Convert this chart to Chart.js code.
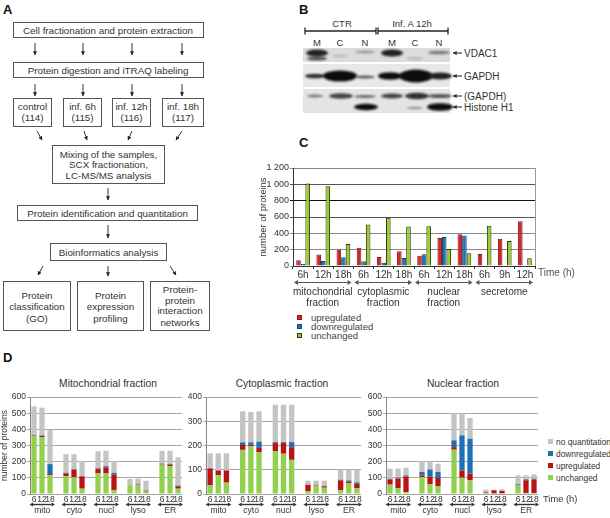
<!DOCTYPE html>
<html><head><meta charset="utf-8">
<script src="https://cdn.jsdelivr.net/npm/chart.js@4.4.1/dist/chart.umd.min.js"></script>
<style>
html,body{margin:0;padding:0;background:#fff;width:610px;height:518px;overflow:hidden;position:relative;font-family:"Liberation Sans",Arial,sans-serif}
canvas{position:absolute}
svg{position:absolute;left:0;top:0}
</style></head><body>
<svg width="610" height="518">
<defs>
<marker id="ah" viewBox="0 0 6 6" refX="5.5" refY="3" markerWidth="4.5" markerHeight="4.5" orient="auto"><path d="M0,0 L6,3 L0,6 z" fill="#222"/></marker>
<marker id="ahb" viewBox="0 0 6 6" refX="5.5" refY="3" markerWidth="4" markerHeight="4" orient="auto"><path d="M0,0 L6,3 L0,6 z" fill="#333"/></marker>
<filter id="bl" x="-50%" y="-100%" width="200%" height="300%"><feGaussianBlur stdDeviation="1.3"/></filter>
</defs>
<g font-family="Liberation Sans, Arial, sans-serif">
<text x="3" y="14" font-weight="bold" font-size="13" fill="#111">A</text>
<text x="299" y="14" font-weight="bold" font-size="13" fill="#111">B</text>
<text x="299" y="147" font-weight="bold" font-size="13" fill="#111">C</text>
<text x="3" y="362" font-weight="bold" font-size="13" fill="#111">D</text>
</g>
<!-- Panel A flowchart -->
<g fill="#fff" stroke="#555" stroke-width="1">
<rect x="13.5" y="22.5" width="190" height="15"/>
<rect x="13.5" y="62.5" width="190" height="15"/>
<rect x="13.5" y="98.5" width="38" height="28"/>
<rect x="63.5" y="98.5" width="38" height="28"/>
<rect x="112.5" y="98.5" width="38" height="28"/>
<rect x="162.5" y="98.5" width="41" height="28"/>
<rect x="52.5" y="145.5" width="112" height="38"/>
<rect x="17.5" y="205.5" width="180" height="15"/>
<rect x="50.5" y="243.5" width="116" height="17"/>
<rect x="3.5" y="281.5" width="67" height="49"/>
<rect x="77.5" y="281.5" width="66" height="49"/>
<rect x="150.5" y="281.5" width="59" height="49"/>
</g>
<g stroke="#222" stroke-width="0.9" marker-end="url(#ah)">
<line x1="35" y1="43" x2="35" y2="55"/><line x1="83" y1="43" x2="83" y2="55"/><line x1="132" y1="43" x2="132" y2="55"/><line x1="182" y1="43" x2="182" y2="55"/>
<line x1="35" y1="84" x2="35" y2="96"/><line x1="83" y1="84" x2="83" y2="96"/><line x1="132" y1="84" x2="132" y2="96"/><line x1="182" y1="84" x2="182" y2="96"/>
<line x1="37" y1="131" x2="42" y2="140"/><line x1="84" y1="131" x2="87" y2="140"/><line x1="132" y1="131" x2="128" y2="140"/><line x1="182" y1="131" x2="176" y2="140"/>
<line x1="108" y1="188" x2="108" y2="200"/>
<line x1="108" y1="225" x2="108" y2="238"/>
<line x1="43" y1="266" x2="38" y2="275"/><line x1="108" y1="266" x2="108" y2="276"/><line x1="170" y1="266" x2="176" y2="275"/>
</g>
<g font-family="Liberation Sans, Arial, sans-serif" font-size="9.8" fill="#333" text-anchor="middle">
<text x="108" y="33.5">Cell fractionation and protein extraction</text>
<text x="108" y="73.5">Protein digestion and iTRAQ labeling</text>
<text x="32.5" y="109.5">control</text><text x="32.5" y="121">(114)</text>
<text x="82.5" y="109.5">inf. 6h</text><text x="82.5" y="121">(115)</text>
<text x="131.5" y="109.5">inf. 12h</text><text x="131.5" y="121">(116)</text>
<text x="183" y="109.5">inf. 18h</text><text x="183" y="121">(117)</text>
<text x="108.5" y="157.5">Mixing of the samples,</text>
<text x="108.5" y="168">SCX fractionation,</text>
<text x="108.5" y="178.5">LC-MS/MS analysis</text>
<text x="107.5" y="216.5">Protein identification and quantitation</text>
<text x="108.5" y="255.5">Bioinformatics analysis</text>
<text x="37" y="298.5">Protein</text><text x="37" y="310">classification</text><text x="37" y="321.5">(GO)</text>
<text x="110.5" y="298.5">Protein</text><text x="110.5" y="310">expression</text><text x="110.5" y="321.5">profiling</text>
<text x="180" y="292.5">Protein-</text><text x="180" y="303.5">protein</text><text x="180" y="314">interaction</text><text x="180" y="325.5">networks</text>
</g>
<!-- Panel B blot -->
<g font-family="Liberation Sans, Arial, sans-serif" font-size="9.5" fill="#333" text-anchor="middle">
<text x="342" y="27">CTR</text><text x="412" y="27">Inf. A 12h</text>
<text x="317" y="45.5">M</text><text x="340" y="45.5">C</text><text x="365" y="45.5">N</text>
<text x="392" y="45.5">M</text><text x="415" y="45.5">C</text><text x="439" y="45.5">N</text>
</g>
<g stroke="#222" stroke-width="1.3">
<line x1="305" y1="31" x2="376" y2="31"/><line x1="378" y1="31" x2="448" y2="31"/>
<line x1="305" y1="27.5" x2="305" y2="34.5"/><line x1="376" y1="27.5" x2="376" y2="34.5"/><line x1="378" y1="27.5" x2="378" y2="34.5"/><line x1="448" y1="27.5" x2="448" y2="34.5"/>
</g>
<rect x="303" y="48" width="147" height="14" fill="#dcdcdc"/>
<rect x="303" y="64" width="147" height="23" fill="#e8e8e8"/>
<rect x="303" y="89" width="147" height="24" fill="#e4e4e4"/>
<g filter="url(#bl)">
<ellipse cx="317" cy="53" rx="11" ry="3.5" fill="#222"/><ellipse cx="317" cy="58.5" rx="10" ry="2" fill="#555"/>
<ellipse cx="340" cy="56" rx="8" ry="1.5" fill="#bbb"/><ellipse cx="365" cy="52" rx="10" ry="1.5" fill="#999"/>
<ellipse cx="392" cy="53" rx="11" ry="3.5" fill="#222"/><ellipse cx="415" cy="58.5" rx="8" ry="1" fill="#aaa"/>
<ellipse cx="439" cy="52.5" rx="11" ry="1.8" fill="#777"/>
<ellipse cx="315" cy="76" rx="10" ry="2.3" fill="#333"/><ellipse cx="340" cy="76" rx="17" ry="5.5" fill="#111"/>
<ellipse cx="365" cy="77" rx="10" ry="1.5" fill="#555"/><ellipse cx="390" cy="76" rx="12" ry="3.8" fill="#111"/>
<ellipse cx="416" cy="76" rx="17" ry="6.5" fill="#0a0a0a"/><ellipse cx="440" cy="76" rx="12" ry="3.5" fill="#222"/>
<ellipse cx="315" cy="96" rx="8" ry="1.4" fill="#777"/><ellipse cx="341" cy="96" rx="12" ry="2.8" fill="#444"/>
<ellipse cx="365" cy="96.5" rx="11" ry="1.4" fill="#666"/><ellipse cx="392" cy="96" rx="11" ry="2.4" fill="#444"/>
<ellipse cx="417" cy="96" rx="12" ry="3.3" fill="#333"/><ellipse cx="440" cy="96" rx="12" ry="2" fill="#555"/>
<ellipse cx="366" cy="107" rx="12" ry="3.3" fill="#111"/><ellipse cx="415" cy="108" rx="8" ry="1.3" fill="#999"/>
<ellipse cx="440" cy="107" rx="13" ry="3.8" fill="#0a0a0a"/>
</g>
<g stroke="#222" stroke-width="1" marker-end="url(#ahb)">
<line x1="462" y1="53" x2="453" y2="53"/><line x1="462" y1="76" x2="453" y2="76"/>
<line x1="462" y1="96" x2="453" y2="96"/><line x1="462" y1="107" x2="453" y2="107"/>
</g>
<g font-family="Liberation Sans, Arial, sans-serif" font-size="10" fill="#333">
<text x="464" y="56.5">VDAC1</text><text x="464" y="79.5">GAPDH</text>
<text x="464" y="99.5">(GAPDH)</text><text x="464" y="110.5">Histone H1</text>
</g>
<!-- Panel C legend -->
<rect x="297.5" y="315.5" width="4" height="4" fill="#d2232a" stroke="#8b1a1a" stroke-width="1"/>
<rect x="297.5" y="324.5" width="4" height="4" fill="#1f72b8" stroke="#14507f" stroke-width="1"/>
<rect x="297.5" y="333.5" width="4" height="4" fill="#9bcb2c" stroke="#2b3a10" stroke-width="1"/>
<g font-family="Liberation Sans, Arial, sans-serif" font-size="9.5" fill="#444">
<text x="311" y="321">upregulated</text><text x="311" y="330">downregulated</text><text x="311" y="339">unchanged</text>
</g>
<!-- Panel D titles & legend -->
<g font-family="Liberation Sans, Arial, sans-serif" font-size="10.3" fill="#333" text-anchor="middle">
<text x="108" y="387">Mitochondrial fraction</text>
<text x="282" y="387">Cytoplasmic fraction</text>
<text x="463" y="387">Nuclear fraction</text>
</g>
<rect x="548" y="439" width="5" height="5" fill="#c4c4c4"/>
<rect x="548" y="451" width="5" height="5" fill="#1f6fb5"/>
<rect x="548" y="463" width="5" height="5" fill="#b81414"/>
<rect x="548" y="475" width="5" height="5" fill="#92d050"/>
<g font-family="Liberation Sans, Arial, sans-serif" font-size="8.4" fill="#333">
<text x="556" y="444.5">no quantitation</text><text x="556" y="456.5">downregulated</text>
<text x="556" y="468.5">upregulated</text><text x="556" y="480.5">unchanged</text>
</g>
</svg>

<canvas id="chartC" width="330" height="160" style="left:258px;top:150px;width:330px;height:160px"></canvas>
<canvas id="chartD1" width="188" height="128" style="left:0px;top:390px;width:188px;height:128px"></canvas>
<canvas id="chartD2" width="180" height="128" style="left:188px;top:390px;width:180px;height:128px"></canvas>
<canvas id="chartD3" width="242" height="128" style="left:368px;top:390px;width:242px;height:128px"></canvas>

<script>
// ---------- Panel C data ----------
const cTimes = ['6h','12h','18h','6h','12h','18h','6h','12h','18h','6h','9h','12h'];
const cFractions = [['mitochondrial','fraction'],['cytoplasmic','fraction'],['nuclear','fraction'],['secretome']];
const cUpregulated   = [70, 140, 200, 225, 110, 180, 127, 343, 388, 147, 335, 547];
const cDownregulated = [25, 60, 107, 57, 41, 98, 143, 355, 375, null, null, null];
const cUnchanged     = [1010, 976, 270, 508, 590, 484, 488, 208, 155, 494, 306, 94];
const cTickMax = 1200;
const cTickStep = 200;

// ---------- Panel D data ----------
const dTimes = ['6','12','18'];
const dCompartments = ['mito','cyto','nucl','lyso','ER'];
// Mitochondrial fraction
const mitoUnchanged = [358, 352, 115, 110, 103, 33, 130, 127, 25, 55, 55, 15, 181, 172, 33];
const mitoUp        = [3, 8, 8, 18, 48, 75, 24, 37, 96, 0, 4, 5, 2, 10, 15];
const mitoDown      = [3, 2, 62, 3, 3, 3, 5, 8, 10, 0, 0, 2, 5, 4, 4];
const mitoNoQuant   = [178, 172, 213, 115, 92, 94, 106, 95, 72, 38, 37, 60, 79, 81, 175];
// Cytoplasmic fraction
const cytoUnchanged = [36, 77, 47, 182, 197, 173, 177, 166, 141, 12, 32, 26, 15, 45, 23];
const cytoUp        = [69, 19, 49, 20, 6, 17, 33, 45, 52, 26, 3, 6, 41, 6, 19];
const cytoDown      = [2, 2, 2, 11, 10, 26, 4, 3, 21, 0, 0, 0, 3, 5, 6];
const cytoNoQuant   = [61, 70, 70, 128, 125, 125, 154, 154, 154, 17, 20, 23, 41, 44, 52];
// Nuclear fraction
const nuclUnchanged = [58, 37, 12, 105, 60, 47, 274, 101, 84, 5, 4, 4, 52, 6, 6];
const nuclUp        = [31, 58, 97, 10, 49, 52, 16, 45, 42, 5, 19, 15, 2, 79, 83];
const nuclDown      = [6, 6, 6, 21, 43, 37, 42, 217, 216, 0, 0, 0, 6, 6, 6];
const nuclNoQuant   = [62, 56, 48, 66, 50, 51, 168, 137, 128, 17, 4, 10, 55, 24, 27];

Chart.defaults.font.family = '"Liberation Sans", Arial, sans-serif';
Chart.defaults.color = '#333';
Chart.defaults.animation = false;

function dblArrow(ctx, x1, x2, y, head, color, lw) {
  ctx.save();
  ctx.strokeStyle = color; ctx.fillStyle = color; ctx.lineWidth = lw;
  ctx.beginPath(); ctx.moveTo(x1 + head, y); ctx.lineTo(x2 - head, y); ctx.stroke();
  ctx.beginPath(); ctx.moveTo(x1, y); ctx.lineTo(x1 + head, y - head * 0.6); ctx.lineTo(x1 + head, y + head * 0.6); ctx.closePath(); ctx.fill();
  ctx.beginPath(); ctx.moveTo(x2, y); ctx.lineTo(x2 - head, y - head * 0.6); ctx.lineTo(x2 - head, y + head * 0.6); ctx.closePath(); ctx.fill();
  ctx.restore();
}

// ---------- Chart C ----------
const cPlugin = {
  id: 'cDecor',
  afterDraw(chart) {
    const ctx = chart.ctx, a = chart.chartArea, x = chart.scales.x;
    ctx.save();
    ctx.strokeStyle = '#999'; ctx.lineWidth = 1;
    ctx.beginPath(); ctx.moveTo(Math.round(a.right) + 0.5, a.top); ctx.lineTo(Math.round(a.right) + 0.5, a.bottom); ctx.stroke();
    const half = (x.getPixelForValue(1) - x.getPixelForValue(0)) / 2;
    ctx.font = '10px "Liberation Sans", Arial, sans-serif';
    ctx.fillStyle = '#333'; ctx.textAlign = 'center'; ctx.textBaseline = 'middle';
    cFractions.forEach((lines, g) => {
      const x1 = x.getPixelForValue(g * 3) - half + 1;
      const x2 = x.getPixelForValue(g * 3 + 2) + half - 2;
      dblArrow(ctx, x1, x2, a.bottom + 16.5, 4, '#555', 1);
      lines.forEach((t, i) => ctx.fillText(t, (x1 + x2) / 2, a.bottom + 26.5 + i * 10.5));
    });
    ctx.fillStyle = '#555'; ctx.textAlign = 'left';
    ctx.fillText('Time (h)', a.right + 3, a.bottom + 7.5);
    ctx.restore();
  }
};
new Chart(document.getElementById('chartC'), {
  type: 'bar',
  data: {
    labels: cTimes,
    datasets: [
      { label: 'upregulated', data: cUpregulated, backgroundColor: '#d2232a', borderColor: '#7e1a1a', borderWidth: 1 },
      { label: 'downregulated', data: cDownregulated, backgroundColor: '#1f72b8', borderColor: '#123f66', borderWidth: 1 },
      { label: 'unchanged', data: cUnchanged, backgroundColor: '#9bcb2c', borderColor: '#26330c', borderWidth: 1 }
    ]
  },
  options: {
    responsive: false, devicePixelRatio: 1,
    layout: { padding: { left: 0, top: 18, right: 53, bottom: 0 } },
    plugins: { legend: { display: false }, tooltip: { enabled: false } },
    datasets: { bar: { categoryPercentage: 0.68, barPercentage: 1.0 } },
    scales: {
      x: {
        grid: { display: true, drawOnChartArea: false, drawTicks: true, tickLength: 3, color: '#333', offset: true },
        border: { display: true, color: '#333' },
        ticks: { font: { size: 10 }, color: '#333', padding: 0, maxRotation: 0, autoSkip: false },
        afterFit(s) { s.height = 44; }
      },
      y: {
        min: 0, max: cTickMax,
        grid: { color: c => c.tick && c.tick.value === 800 ? '#111' : (c.tick && (c.tick.value === 1000 || c.tick.value === 600) ? '#555' : '#8a8a8a'), tickLength: 3, drawTicks: true },
        border: { display: true, color: '#333' },
        ticks: { stepSize: cTickStep, font: { size: 9 }, color: '#333', padding: 1,
          callback: v => v >= 1000 ? Math.floor(v / 1000) + ' ' + String(v % 1000).padStart(3, '0') : v },
        title: { display: true, text: 'number of proteins', font: { size: 9.5 }, color: '#333', padding: 0 },
        afterFit(s) { s.width = 35; }
      }
    }
  },
  plugins: [cPlugin]
});

// ---------- Charts D ----------
function padGroups(arr) {
  const out = [];
  dCompartments.forEach((c, g) => {
    dTimes.forEach((t, i) => out.push(arr[g * 3 + i]));
    if (g < dCompartments.length - 1) out.push(null);
  });
  return out;
}
const dLabels = [];
dCompartments.forEach((c, g) => {
  dTimes.forEach(t => dLabels.push(t));
  if (g < dCompartments.length - 1) dLabels.push('');
});

function makeD(id, unch, up, down, noq, yMax, opts) {
  const plugin = {
    id: 'dDecor' + id,
    afterDraw(chart) {
      const ctx = chart.ctx, a = chart.chartArea, x = chart.scales.x;
      ctx.save();
      ctx.font = '8.5px "Liberation Sans", Arial, sans-serif';
      ctx.fillStyle = '#333'; ctx.textAlign = 'center'; ctx.textBaseline = 'middle';
      dCompartments.forEach((name, g) => {
        const x1 = x.getPixelForValue(g * 4) - 4.5;
        const x2 = x.getPixelForValue(g * 4 + 2) + 5;
        dblArrow(ctx, x1, x2, a.bottom + 10.5, 3.5, '#333', 1.4);
        ctx.fillText(name, (x1 + x2) / 2, a.bottom + 17);
      });
      if (opts.time) {
        ctx.font = '9.3px "Liberation Sans", Arial, sans-serif';
        ctx.textAlign = 'left';
        ctx.fillText('Time (h)', a.right + 5, a.bottom + 5.5);
      }
      ctx.restore();
    }
  };
  new Chart(document.getElementById(id), {
    type: 'bar',
    data: {
      labels: dLabels,
      datasets: [
        { label: 'unchanged', data: padGroups(unch), backgroundColor: '#92d050' },
        { label: 'upregulated', data: padGroups(up), backgroundColor: '#b81414' },
        { label: 'downregulated', data: padGroups(down), backgroundColor: '#1f6fb5' },
        { label: 'no quantitation', data: padGroups(noq), backgroundColor: '#c4c4c4' }
      ]
    },
    options: {
      responsive: false, devicePixelRatio: 1,
      layout: { padding: { left: 0, top: 7, right: opts.right, bottom: 0 } },
      plugins: { legend: { display: false }, tooltip: { enabled: false } },
      datasets: { bar: { categoryPercentage: 1.0, barPercentage: 0.66 } },
      scales: {
        x: {
          stacked: true,
          grid: { display: false, drawTicks: false },
          border: { display: false },
          ticks: { font: { size: 8.5 }, color: '#333', padding: 1, maxRotation: 0, autoSkip: false },
          afterFit(s) { s.height = 24; }
        },
        y: {
          stacked: true, min: 0, max: yMax,
          grid: { color: '#a8a8a8', tickLength: 3, drawTicks: true },
          border: { display: true, color: '#888' },
          ticks: { stepSize: 100, font: { size: 8.5 }, color: '#333', padding: 1 },
          title: { display: !!opts.title, text: 'number of proteins', font: { size: 8.5 }, color: '#333', padding: 0 },
          afterFit(s) { s.width = opts.yWidth; }
        }
      }
    },
    plugins: [plugin]
  });
}
makeD('chartD1', mitoUnchanged, mitoUp, mitoDown, mitoNoQuant, 600, { right: 6, yWidth: 30, title: true });
makeD('chartD2', cytoUnchanged, cytoUp, cytoDown, cytoNoQuant, 400, { right: 7, yWidth: 18 });
makeD('chartD3', nuclUnchanged, nuclUp, nuclDown, nuclNoQuant, 600, { right: 72, yWidth: 18, time: true });
</script>
</body></html>
